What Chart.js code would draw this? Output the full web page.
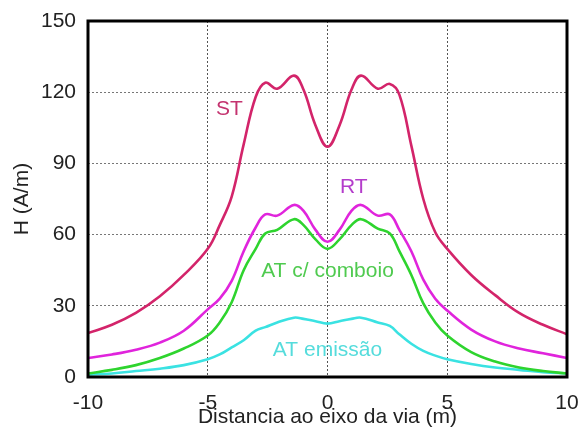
<!DOCTYPE html>
<html>
<head>
<meta charset="utf-8">
<title>Campo magnético</title>
<style>
  body { margin: 0; background: #fff; }
  #wrap { width: 586px; height: 428px; }
</style>
</head>
<body>
<div id="wrap"><canvas id="chart" width="586" height="428"></canvas></div>

<script src="https://cdn.jsdelivr.net/npm/chart.js"></script>
<script>
// distance from the track axis (m)
const distance = [-10, -9, -8, -7, -6, -5, -4.5, -4, -3.5, -3, -2.6, -2.1, -1.4, -1, -0.5, 0,
                  0.5, 1, 1.4, 2.1, 2.6, 3, 3.5, 4, 4.5, 5, 6, 7, 8, 9, 10];

// H (A/m)
const st = [18.5, 22, 27, 34, 43, 54, 64, 76, 98, 118, 124, 121.5, 127, 121, 106, 97,
            106, 121, 127, 121.5, 123.5, 119, 97.5, 75, 61, 54, 43, 34.5, 27, 22, 18];
const rt = [8, 9.5, 11.5, 14.5, 19.5, 28.5, 33, 40.5, 53, 63, 68.5, 68, 72.5, 70, 62, 57,
            62, 70, 72.5, 68, 68.5, 62, 53, 41, 33, 28, 20, 15, 12, 10, 8];
const atComboio = [1.5, 3, 5, 8, 12, 17.5, 23, 31.5, 45, 54, 60.5, 62, 66.5, 64, 58, 54,
                   58, 64, 66.5, 62.5, 60.5, 53, 43, 31, 23, 17.5, 10.5, 6.5, 4, 2.5, 1.5];
const atEmissao = [1, 1.5, 2.5, 3.5, 5, 7.5, 9.5, 12.5, 15.5, 19.5, 21, 23, 25, 24.5, 23.5, 22.5,
                   23.5, 24.5, 25, 23, 21.5, 18, 14, 11, 9, 7.5, 5.5, 4, 3, 2, 1.5];

const seriesNames = ['ST', 'RT', 'AT c/ comboio', 'AT emissão'];
const seriesValues = [st, rt, atComboio, atEmissao];
const lineColors = ['#d3246a', '#e024dc', '#2ed42e', '#3ae2e2'];
const labelColors = ['#c4336f', '#b43ccb', '#4fca4f', '#55dcdc'];
// where the curve names sit, in data units
const labelX = [-4.1, 1.1, 0, 0];
const labelY = [113, 80, 44.5, 11.5];

const xTicks = [-10, -5, 0, 5, 10];
const yTicks = [0, 30, 60, 90, 120, 150];

const FONT = '"Liberation Sans", Arial, sans-serif';

const datasets = seriesNames.map((name, i) => ({
  label: name,
  data: distance.map((x, j) => ({ x: x, y: seriesValues[i][j] })),
  borderColor: lineColors[i],
  borderWidth: 2.6,
  pointRadius: 0,
  fill: false,
  tension: 0.4
}));

// thick frame round the plot area
const framePlugin = {
  id: 'frame',
  afterDraw(chart) {
    const { ctx, chartArea: a } = chart;
    ctx.save();
    ctx.strokeStyle = '#000';
    ctx.lineWidth = 3;
    ctx.strokeRect(a.left, a.top, a.right - a.left, a.bottom - a.top);
    ctx.restore();
  }
};

// curve names written inside the plot
const namesPlugin = {
  id: 'names',
  afterDatasetsDraw(chart) {
    const { ctx, scales } = chart;
    ctx.save();
    ctx.font = '21px ' + FONT;
    ctx.textAlign = 'center';
    ctx.textBaseline = 'middle';
    seriesNames.forEach((name, i) => {
      ctx.fillStyle = labelColors[i];
      ctx.fillText(name, scales.x.getPixelForValue(labelX[i]), scales.y.getPixelForValue(labelY[i]));
    });
    ctx.restore();
  }
};

new Chart(document.getElementById('chart'), {
  type: 'line',
  data: { datasets: datasets },
  options: {
    responsive: false,
    animation: false,
    layout: { padding: { top: 21, right: 19, bottom: 0, left: 0 } },
    plugins: {
      legend: { display: false },
      tooltip: { enabled: false }
    },
    scales: {
      x: {
        type: 'linear',
        min: -10,
        max: 10,
        afterBuildTicks: (axis) => { axis.ticks = xTicks.map(v => ({ value: v })); },
        afterFit: (axis) => {
          axis.height = 51;
          axis.paddingLeft = 0;
          axis.paddingRight = 0;
        },
        grid: {
          color: (c) => (c.tick && (c.tick.value === -10 || c.tick.value === 10)) ? 'rgba(0,0,0,0)' : '#555',
          lineWidth: 1,
          drawTicks: false
        },
        border: { display: false, dash: [2, 2] },
        ticks: {
          padding: 14,
          color: '#222',
          font: { family: FONT, size: 21 },
          maxRotation: 0
        },
        title: {
          display: true,
          text: 'Distancia ao eixo da via (m)',
          color: '#222',
          font: { family: FONT, size: 21 },
          padding: { top: 0, bottom: -2 }
        }
      },
      y: {
        min: 0,
        max: 150,
        afterBuildTicks: (axis) => { axis.ticks = yTicks.map(v => ({ value: v })); },
        afterFit: (axis) => {
          axis.width = 88;
          axis.paddingTop = 0;
          axis.paddingBottom = 0;
        },
        grid: {
          color: (c) => (c.tick && (c.tick.value === 0 || c.tick.value === 150)) ? 'rgba(0,0,0,0)' : '#777',
          lineWidth: 1,
          drawTicks: false
        },
        border: { display: false, dash: [2, 2] },
        ticks: {
          padding: 12,
          color: '#222',
          font: { family: FONT, size: 21 }
        },
        title: {
          display: true,
          text: 'H (A/m)',
          color: '#222',
          font: { family: FONT, size: 21 },
          padding: { top: 10, bottom: 0 }
        }
      }
    }
  },
  plugins: [framePlugin, namesPlugin]
});
</script>
</body>
</html>
